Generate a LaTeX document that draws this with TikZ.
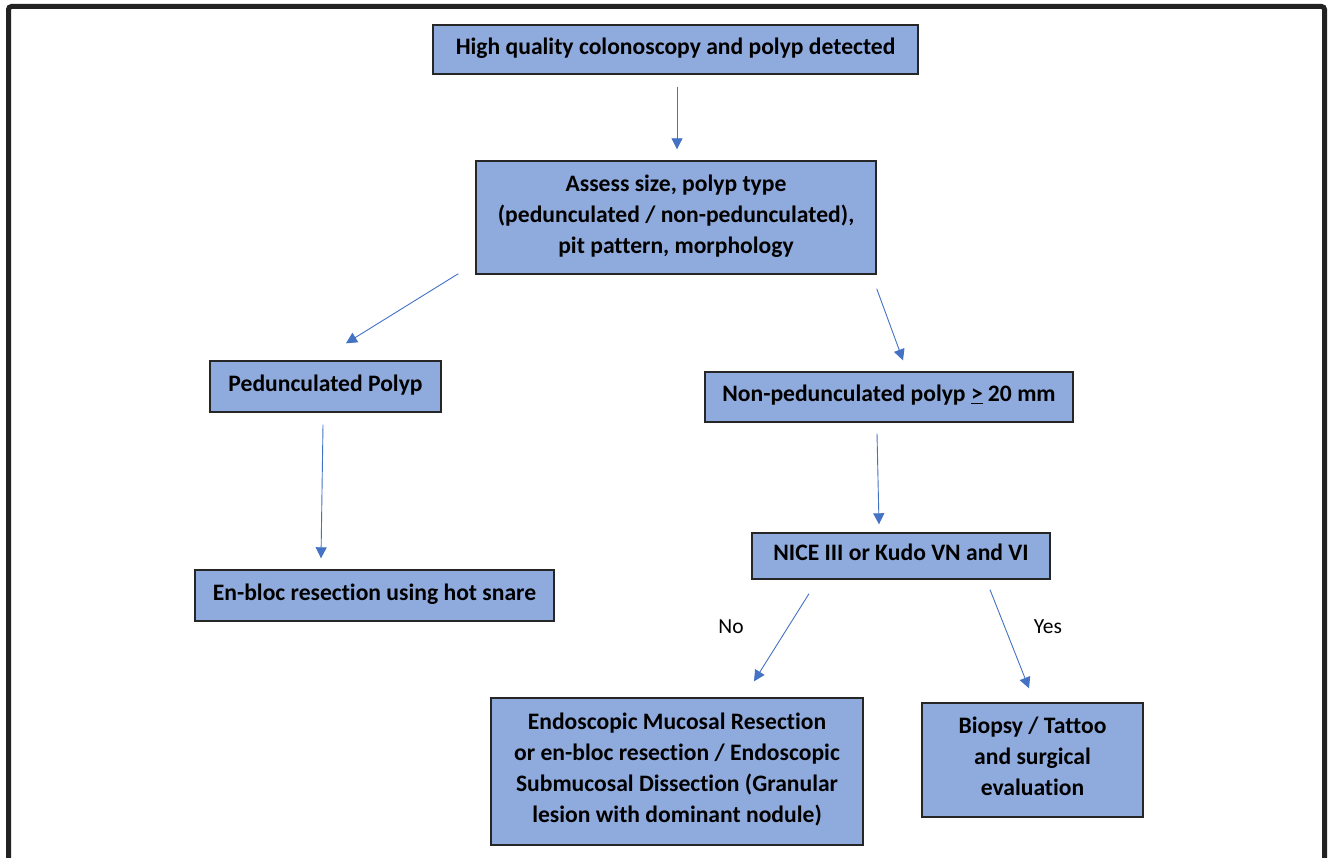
\documentclass[tikz,border=0pt]{standalone}
\usepackage{fontspec}
\setmainfont{Carlito}[Ligatures=NoCommon]
\usetikzlibrary{arrows.meta}
\definecolor{boxfill}{HTML}{8FAADC}
\definecolor{arrblue}{HTML}{4472C4}
\definecolor{frameblk}{HTML}{222222}
\tikzset{
  flowbox/.style={draw=black!85, line width=1.4pt, fill=boxfill, rectangle, inner sep=0pt,
    align=center, font=\fontsize{23.6}{31}\selectfont\bfseries},
  arr/.style={draw=arrblue, line width=0.9pt, -{Triangle[length=11pt,width=11pt]}},
  lbl/.style={font=\fontsize{21.5}{24}\selectfont, inner sep=0pt}
}
\begin{document}
\begin{tikzpicture}[x=1pt,y=-1pt]
\useasboundingbox (0,0) rectangle (1329,858);
\fill[white] (0,0) rectangle (1329,858);
% outer frame (open at the bottom)
\draw[frameblk, line width=5pt, rounded corners=3pt] (8.5,870) -- (8.5,6.5) -- (1324.5,6.5) -- (1324.5,870);

\node[flowbox, minimum width=485pt, minimum height=49pt] (b1) at (675.5,49.5)
  {High quality colonoscopy and polyp detected\rule[-7pt]{0pt}{0pt}};
\node[flowbox, minimum width=400pt, minimum height=113pt] (b2) at (676,217.5)
  {Assess size, polyp type\\(pedunculated / non-pedunculated),\\pit pattern, morphology\rule[-7pt]{0pt}{0pt}};
\node[flowbox, minimum width=231pt, minimum height=51pt] (b3) at (325.5,386.5)
  {Pedunculated Polyp\rule[-7pt]{0pt}{0pt}};
\node[flowbox, minimum width=368pt, minimum height=50pt] (b4) at (889,397)
  {Non-pedunculated polyp \underline{>} 20 mm\rule[-7pt]{0pt}{0pt}};
\node[flowbox, minimum width=359pt, minimum height=51pt] (b5) at (374.5,595.5)
  {En-bloc resection using hot snare\rule[-7pt]{0pt}{0pt}};
\node[flowbox, minimum width=298pt, minimum height=46pt] (b6) at (901,556)
  {NICE III or Kudo VN and VI\rule[-7pt]{0pt}{0pt}};
\node[flowbox, minimum width=372pt, minimum height=147pt] (b7) at (677,771.5)
  {Endoscopic Mucosal Resection\\or en-bloc resection / Endoscopic\\Submucosal Dissection (Granular\\lesion with dominant nodule)\rule[-7pt]{0pt}{0pt}};
\node[flowbox, minimum width=221pt, minimum height=114pt] (b8) at (1032.5,760)
  {Biopsy / Tattoo\\and surgical\\evaluation\rule[-7pt]{0pt}{0pt}};

\node[lbl] (no) at (731,627) {No};
\node[lbl] (yes) at (1048,627) {Yes};

\draw[arr] ([xshift=1.5pt,yshift=-12pt]b1.south) -- ([xshift=1pt,yshift=11pt]b2.north);
\draw[arr] ([xshift=-17pt,yshift=1pt]b2.south west) -- ([xshift=20.5pt,yshift=17pt]b3.north);
\draw[arr] ([yshift=-14pt]b2.south east) -- ([xshift=14pt,yshift=11pt]b4.north);
\draw[arr] ([xshift=-2.5pt,yshift=-12pt]b3.south) -- ([xshift=-53.5pt,yshift=11pt]b5.north);
\draw[arr] ([xshift=-12pt,yshift=-11pt]b4.south) -- ([xshift=-22pt,yshift=8pt]b6.north);
\draw[arr] ([xshift=-92pt,yshift=-14pt]b6.south) -- ([xshift=77pt,yshift=16pt]b7.north);
\draw[arr] ([xshift=89pt,yshift=-10pt]b6.south) -- ([xshift=-3.5pt,yshift=14pt]b8.north);
\end{tikzpicture}
\end{document}
